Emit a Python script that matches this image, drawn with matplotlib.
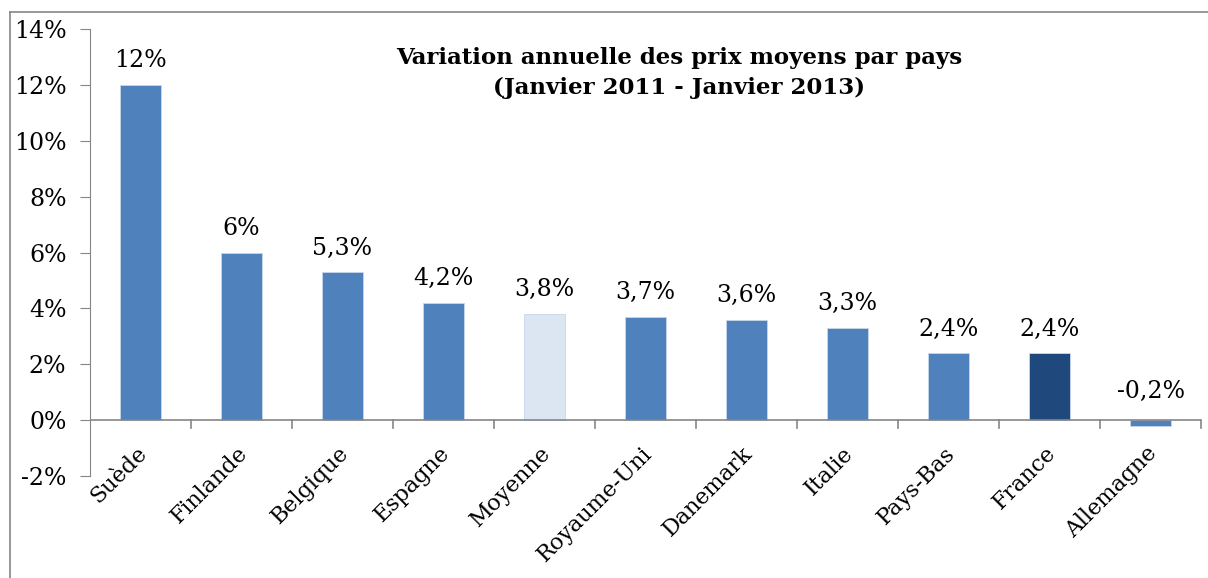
import numpy as np
import matplotlib
matplotlib.use("Agg")
import matplotlib.pyplot as plt
from matplotlib import ticker
from matplotlib.lines import Line2D

pays = ['Suède', 'Finlande', 'Belgique', 'Espagne', 'Moyenne', 'Royaume-Uni',
        'Danemark', 'Italie', 'Pays-Bas', 'France', 'Allemagne']
variation = [12, 6, 5.3, 4.2, 3.8, 3.7, 3.6, 3.3, 2.4, 2.4, -0.2]
couleurs = ['#4F81BD'] * 11
couleurs[4] = '#DCE6F2'   # moyenne
couleurs[9] = '#1F497D'   # France

plt.rcParams['font.family'] = ['DejaVu Serif']
grey = '#868686'

fig = plt.figure(figsize=(12.08, 5.78), dpi=100)
ax = fig.add_axes([90/1208, 1-476/578, 1111/1208, (476-29)/578])

x = np.arange(len(pays))
ax.bar(x, variation, width=0.41, color=couleurs, edgecolor='#C9D7EA', linewidth=0.6, zorder=2)

for xi, v in zip(x, variation):
    lab = ('%g' % v).replace('.', ',') + '%'
    ax.annotate(lab, (xi, max(v, 0)), xytext=(0, 9 if v >= 0 else 12), textcoords='offset points',
                ha='center', va='bottom', fontsize=17)

ax.set_xlim(-0.5, len(pays) - 0.5)
ax.set_ylim(-2, 14)
ax.set_yticks(np.arange(-2, 15, 2))
ax.yaxis.set_major_formatter(ticker.FuncFormatter(lambda v, p: '%d%%' % v))
ax.tick_params(axis='y', labelsize=17, length=7, color=grey, pad=10)

for s in ['top', 'right', 'bottom']:
    ax.spines[s].set_visible(False)
ax.spines['left'].set_color(grey)

# axe horizontal au niveau de 0 avec graduations entre catégories
ax.axhline(0, color=grey, lw=1.2, zorder=3)
for b in np.arange(0.5, len(pays), 1.0):
    ax.plot([b, b], [0, -0.28], color=grey, lw=1.2, zorder=3, clip_on=False)
ax.set_xticks([])

for xi, name in zip(x, pays):
    ax.text(xi - 0.05, -0.8, name, rotation=45, rotation_mode='anchor',
            ha='right', va='top', fontsize=16)

fig.text(679/1208, 1-73/578, 'Variation annuelle des prix moyens par pays\n(Janvier 2011 - Janvier 2013)',
         ha='center', va='center', fontsize=16.5, fontweight='bold', linespacing=1.5)

# cadre du graphique
fig.add_artist(Line2D([10/1208, 10/1208], [0, 1-12/578], color=grey, lw=1.2, transform=fig.transFigure))
fig.add_artist(Line2D([10/1208, 1], [1-12/578, 1-12/578], color=grey, lw=1.2, transform=fig.transFigure))

fig.savefig('out.png', dpi=100)
